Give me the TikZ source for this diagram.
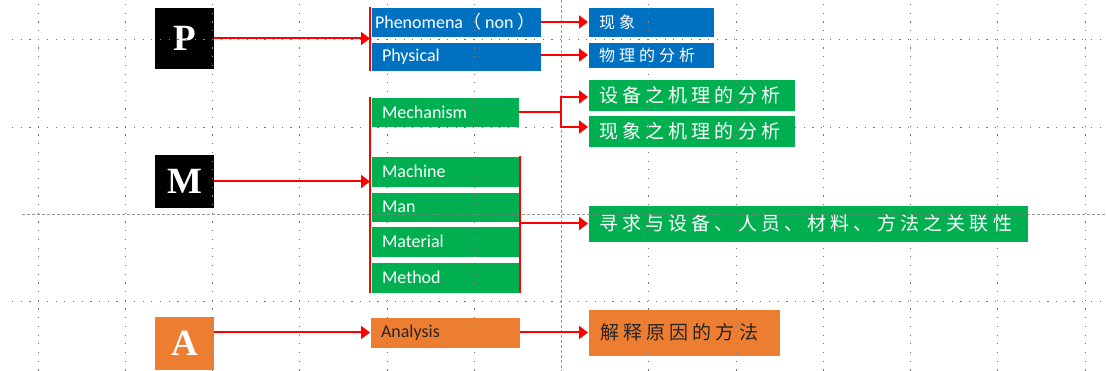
\documentclass[tikz,border=0pt]{standalone}
\usepackage{fontspec}
\setmainfont{Carlito}
\newfontfamily\cjk{Noto Sans CJK SC}
\newfontfamily\cjkwide[LetterSpace=22]{Noto Sans CJK SC}
\newfontfamily\cjkmid[LetterSpace=25]{Noto Sans CJK SC}
\newfontfamily\serifbold{Liberation Serif}
\usetikzlibrary{arrows.meta,calc}
\definecolor{pblue}{HTML}{0070C0}
\definecolor{pgreen}{HTML}{00B050}
\definecolor{porange}{HTML}{ED7D31}
\definecolor{pred}{HTML}{FF0000}
\newcommand{\leftfill}[2]{\makebox[#1][l]{#2}}
\tikzset{
  letterbox/.style={anchor=north west, inner sep=0pt, outer sep=0pt, minimum width=59pt,
    text=white, font=\serifbold\bfseries\fontsize{37}{37}\selectfont},
  box/.style={anchor=north west, inner ysep=0pt, inner xsep=11pt, outer sep=0pt,
    draw=white, line width=0.5pt, text=white, font=\fontsize{18}{20}\selectfont},
  cjkbig/.style={font=\cjkwide\fontsize{19}{21}\selectfont},
  cjksmall/.style={font=\cjkmid\fontsize{16}{18}\selectfont},
  gridline/.style={draw=white, line width=1pt, blend mode=difference, opacity=0.55,
    dash pattern=on 1.2pt off 7.5pt},
  griddash/.style={draw=white, line width=0.9pt, blend mode=difference, opacity=0.4,
    dash pattern=on 3pt off 2pt},
  bracket/.style={draw=pred, line width=2.7pt},
  redline/.style={draw=pred, line width=2pt},
  arr/.style={redline, -{Triangle[length=9pt,width=13pt]}},
}
\begin{document}
\begin{tikzpicture}[x=1pt,y=-1pt]
\useasboundingbox (0,0) rectangle (1106,371);
\fill[white] (0,0) rectangle (1106,371);

% letter boxes
\node[letterbox, fill=black, minimum height=61pt] (P) at (155,8) {P};
\node[letterbox, fill=black, minimum height=53pt] (M) at (155,155) {M};
\node[letterbox, fill=porange, minimum height=53pt] (A) at (155,317) {A};

% P branch
\node[box, fill=pblue, minimum height=30pt, inner xsep=4pt] (phen) at (371,7)
  {\leftfill{162pt}{Phenomena{\cjk （} non {\cjk ）}}};
\node[box, fill=pblue, minimum height=29pt] (phys) at (371,42) {\leftfill{148pt}{Physical}};
\node[box, fill=pblue, cjksmall, minimum height=30pt] (xianx) at (588,7) {\leftfill{104pt}{现象}};
\node[box, fill=pblue, cjksmall, minimum height=26pt] (wuli) at (588,42) {\leftfill{104pt}{物理的分析}};

% M branch
\node[box, fill=pgreen, minimum height=30pt] (mech) at (371,97) {\leftfill{126pt}{Mechanism}};
\node[box, fill=pgreen, cjkbig, minimum height=32pt] (shebei) at (588,79) {\leftfill{185pt}{设备之机理的分析}};
\node[box, fill=pgreen, cjkbig, minimum height=32pt] (xianxj) at (588,115) {\leftfill{185pt}{现象之机理的分析}};
\node[box, fill=pgreen, minimum height=31pt] (machine) at (371,156) {\leftfill{127pt}{Machine}};
\node[box, fill=pgreen, minimum height=30pt] (man) at (371,192) {\leftfill{127pt}{Man}};
\node[box, fill=pgreen, minimum height=31pt] (material) at (371,226) {\leftfill{127pt}{Material}};
\node[box, fill=pgreen, minimum height=31pt] (method) at (371,262) {\leftfill{127pt}{Method}};
\node[box, fill=pgreen, cjkbig, minimum height=37pt] (xunqiu) at (588,205)
  {\leftfill{418pt}{寻求与设备、人员、材料、方法之关联性}};

% A branch
\node[box, fill=porange, text=black!85, minimum height=31pt] (analysis) at (370,317) {\leftfill{128pt}{Analysis}};
\node[box, fill=porange, cjkbig, text=black!85, minimum height=47pt, inner xsep=12pt] (jieshi) at (588,309)
  {\leftfill{168pt}{解释原因的方法}};

% grid
\foreach \k in {0,1,2,3,4,5,7,8,9,10,11,12}
  \draw[gridline] ({38+87.25*\k},4) -- ({38+87.25*\k},371);
\draw[griddash] ({38+87.25*6},0) -- ({38+87.25*6},371);
\foreach \k in {0,1,3}
  \draw[gridline] (12,{40+87.25*\k}) -- (1106,{40+87.25*\k});
\draw[griddash] (22,{40+87.25*2}) -- (1106,{40+87.25*2});

% connectors
\coordinate (pbrT) at (370,7);
\coordinate (pbrB) at (370,71);
\draw[bracket] (pbrT) -- (pbrB);
\draw[arr] (P.east) -- (P.east -| pbrT);
\draw[arr] (phen.east) -- (phen.east -| xianx.west);
\draw[arr] (wuli.west -| phys.east) -- (wuli.west);

\coordinate (mbrT) at (370,97);
\coordinate (mbrB) at (370,293);
\coordinate (mbrRT) at (520,156);
\coordinate (mbrRB) at (520,293);
\draw[bracket] (mbrT) -- (mbrB);
\draw[bracket] (mbrRT) -- (mbrRB);
\draw[arr] (M.east) -- (M.east -| mbrT);
\coordinate (msplit) at (561,112);
\draw[redline] (mech.east) -- (msplit);
\draw[arr] (msplit) |- ([yshift=-2pt]shebei.west);
\draw[arr] (msplit) |- ([yshift=4pt]xianxj.west);
\draw[arr] (xunqiu.west -| mbrRT) -- (xunqiu.west);

\draw[arr] (A.east |- analysis.west) -- (analysis.west);
\draw[arr] (analysis.east) -- (analysis.east -| jieshi.west);
\end{tikzpicture}
\end{document}
